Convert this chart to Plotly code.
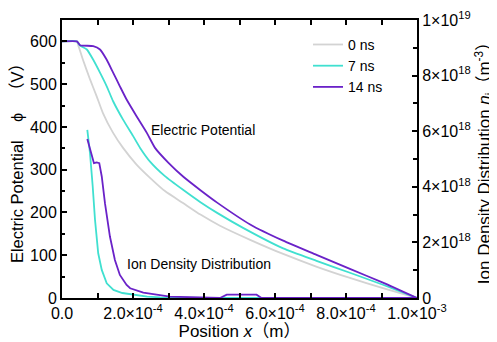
import plotly.graph_objects as go

# ---- data ----
labels = ["0 ns", "7 ns", "14 ns"]
colors = ["#d3d3d3", "#40e0d0", "#6a22c8"]

x_phi_0 = [0, 0.42e-4, 0.45e-4, 0.59e-4, 0.79e-4, 0.98e-4, 1.15e-4, 1.44e-4, 1.72e-4, 2.1e-4, 2.48e-4,
           2.9e-4, 3.41e-4, 3.9e-4, 4.45e-4, 5.3e-4, 6.23e-4, 7.18e-4, 8.11e-4, 9.04e-4, 1.0e-3]
phi_0 = [600, 600, 593, 557, 511, 471, 433, 386, 351, 312, 281, 250, 222, 195, 169, 136, 103, 73, 47, 23, 0]

x_phi_7 = [0, 0.42e-4, 0.51e-4, 0.70e-4, 0.88e-4, 1.07e-4, 1.26e-4, 1.44e-4, 1.72e-4, 2.0e-4,
           2.2e-4, 2.48e-4, 2.9e-4, 3.41e-4, 3.9e-4, 4.37e-4, 5.1e-4, 6.23e-4, 7.17e-4, 8.11e-4, 9.04e-4, 1.0e-3]
phi_7 = [600, 600, 590, 581, 557, 527, 495, 460, 417, 379, 351, 319, 285, 253, 224, 199, 164, 116, 87, 59, 31, 0]

x_phi_14 = [0, 0.42e-4, 0.51e-4, 0.88e-4, 1.07e-4, 1.26e-4, 1.44e-4, 1.63e-4, 1.82e-4, 2.1e-4,
            2.39e-4, 2.62e-4, 3.0e-4, 3.41e-4, 3.9e-4, 4.37e-4, 5.3e-4, 6.23e-4, 7.17e-4, 8.11e-4, 9.04e-4, 1.0e-3]
phi_14 = [600, 600, 591, 589, 581, 557, 527, 495, 464, 425, 386, 351, 316, 284, 252, 223, 172, 134, 101, 68, 36, 0]

x_n_7 = [0.713e-4, 0.789e-4, 0.865e-4, 0.93e-4, 1.02e-4, 1.12e-4, 1.26e-4, 1.45e-4, 1.7e-4, 2.0e-4,
         2.4e-4, 2.76e-4, 3.3e-4, 4.0e-4, 1.0e-3]
n_7 = [6.05e18, 5.21e18, 4.01e18, 2.81e18, 1.61e18, 1.01e18, 0.53e18, 0.29e18, 0.18e18, 0.12e18,
       0.05e18, 0.025e18, 0.01e18, 0, 0]

x_n_14 = [0.713e-4, 0.837e-4, 0.90e-4, 0.977e-4, 1.05e-4, 1.12e-4, 1.21e-4, 1.35e-4, 1.49e-4, 1.63e-4,
          1.82e-4, 1.92e-4, 2.29e-4, 3.04e-4, 3.89e-4, 4.45e-4, 4.64e-4, 5.48e-4, 5.62e-4, 1.0e-3]
n_14 = [5.72e18, 5.09e18, 4.85e18, 4.88e18, 4.85e18, 4.37e18, 3.41e18, 2.21e18, 1.37e18, 0.83e18,
        0.47e18, 0.35e18, 0.19e18, 0.05e18, 0.02e18, 0, 0.12e18, 0.12e18, 0, 0]

x_tickvals = [0, 1e-4, 2e-4, 3e-4, 4e-4, 5e-4, 6e-4, 7e-4, 8e-4, 9e-4, 1e-3]
x_ticktext = ["0.0", "", "2.0×10<sup>-4</sup>", "", "4.0×10<sup>-4</sup>", "", "6.0×10<sup>-4</sup>", "",
              "8.0×10<sup>-4</sup>", "", "1.0×10<sup>-3</sup>"]
y2_tickvals = [0, 2e18, 4e18, 6e18, 8e18, 1e19]
y2_ticktext = ["0", "2×10<sup>18</sup>", "4×10<sup>18</sup>", "6×10<sup>18</sup>", "8×10<sup>18</sup>",
               "1×10<sup>19</sup>"]

FONT = "Arial, Liberation Sans, Noto Sans CJK JP, sans-serif"

fig = go.Figure()
for xs, ys, name, c in zip([x_phi_0, x_phi_7, x_phi_14], [phi_0, phi_7, phi_14], labels, colors):
    fig.add_trace(go.Scatter(x=xs, y=ys, mode="lines", name=name,
                             line=dict(color=c, width=1.8, shape="spline", smoothing=0.5)))
for xs, ys, c in zip([x_n_7, x_n_14], [n_7, n_14], colors[1:]):
    fig.add_trace(go.Scatter(x=xs, y=ys, mode="lines", showlegend=False, yaxis="y2",
                             line=dict(color=c, width=1.8)))

fig.add_annotation(x=3.97e-4, y=6.05e18, yref="y2", text="Electric Potential", showarrow=False,
                   font=dict(size=14, color="black", family=FONT))
fig.add_annotation(x=3.86e-4, y=1.23e18, yref="y2", text="Ion Density Distribution", showarrow=False,
                   font=dict(size=14, color="black", family=FONT))

axis_common = dict(showgrid=False, zeroline=False, showline=True, linecolor="black", linewidth=2,
                   ticks="inside", tickcolor="black", tickwidth=1.5, ticklen=5, automargin=False,
                   tickfont=dict(size=16, color="black", family=FONT))

# the page body adds an 8px offset, so the figure is 8px smaller than the window
fig.update_layout(
    width=489, height=334,
    margin=dict(l=54, r=80, t=12, b=44),
    paper_bgcolor="white", plot_bgcolor="white",
    font=dict(family=FONT, color="black"),
    xaxis=dict(range=[0, 1e-3], tickmode="array", tickvals=x_tickvals, ticktext=x_ticktext,
               mirror="ticks",
               title=dict(text="Position <i>x</i>（m）", standoff=1,
                          font=dict(size=17, family=FONT)),
               **axis_common),
    yaxis=dict(range=[0, 650], dtick=100,
               minor=dict(dtick=50, ticks="inside", ticklen=3, tickcolor="black"),
               title=dict(text="Electric Potential\u00a0\u00a0\u00a0\u00a0ϕ\u00a0\u00a0\u00a0（V）", standoff=4,
                          font=dict(size=16.5, family=FONT)),
               **axis_common),
    yaxis2=dict(range=[0, 1e19], overlaying="y", side="right", tickmode="array",
                tickvals=y2_tickvals, ticktext=y2_ticktext,
                minor=dict(tickvals=[1e18, 3e18, 5e18, 7e18, 9e18], ticks="inside", ticklen=4,
                           tickcolor="black"),
                title=dict(text="Ion Density Distribution <i>n</i><sub>i</sub>（m<sup>-3</sup>）",
                           standoff=9, font=dict(size=17, family=FONT)),
                **axis_common),
    legend=dict(x=0.693, y=0.968, xanchor="left", yanchor="top", bgcolor="rgba(0,0,0,0)",
                font=dict(size=14, family=FONT), itemwidth=30, tracegroupgap=0),
)

fig.write_html("out.html")
